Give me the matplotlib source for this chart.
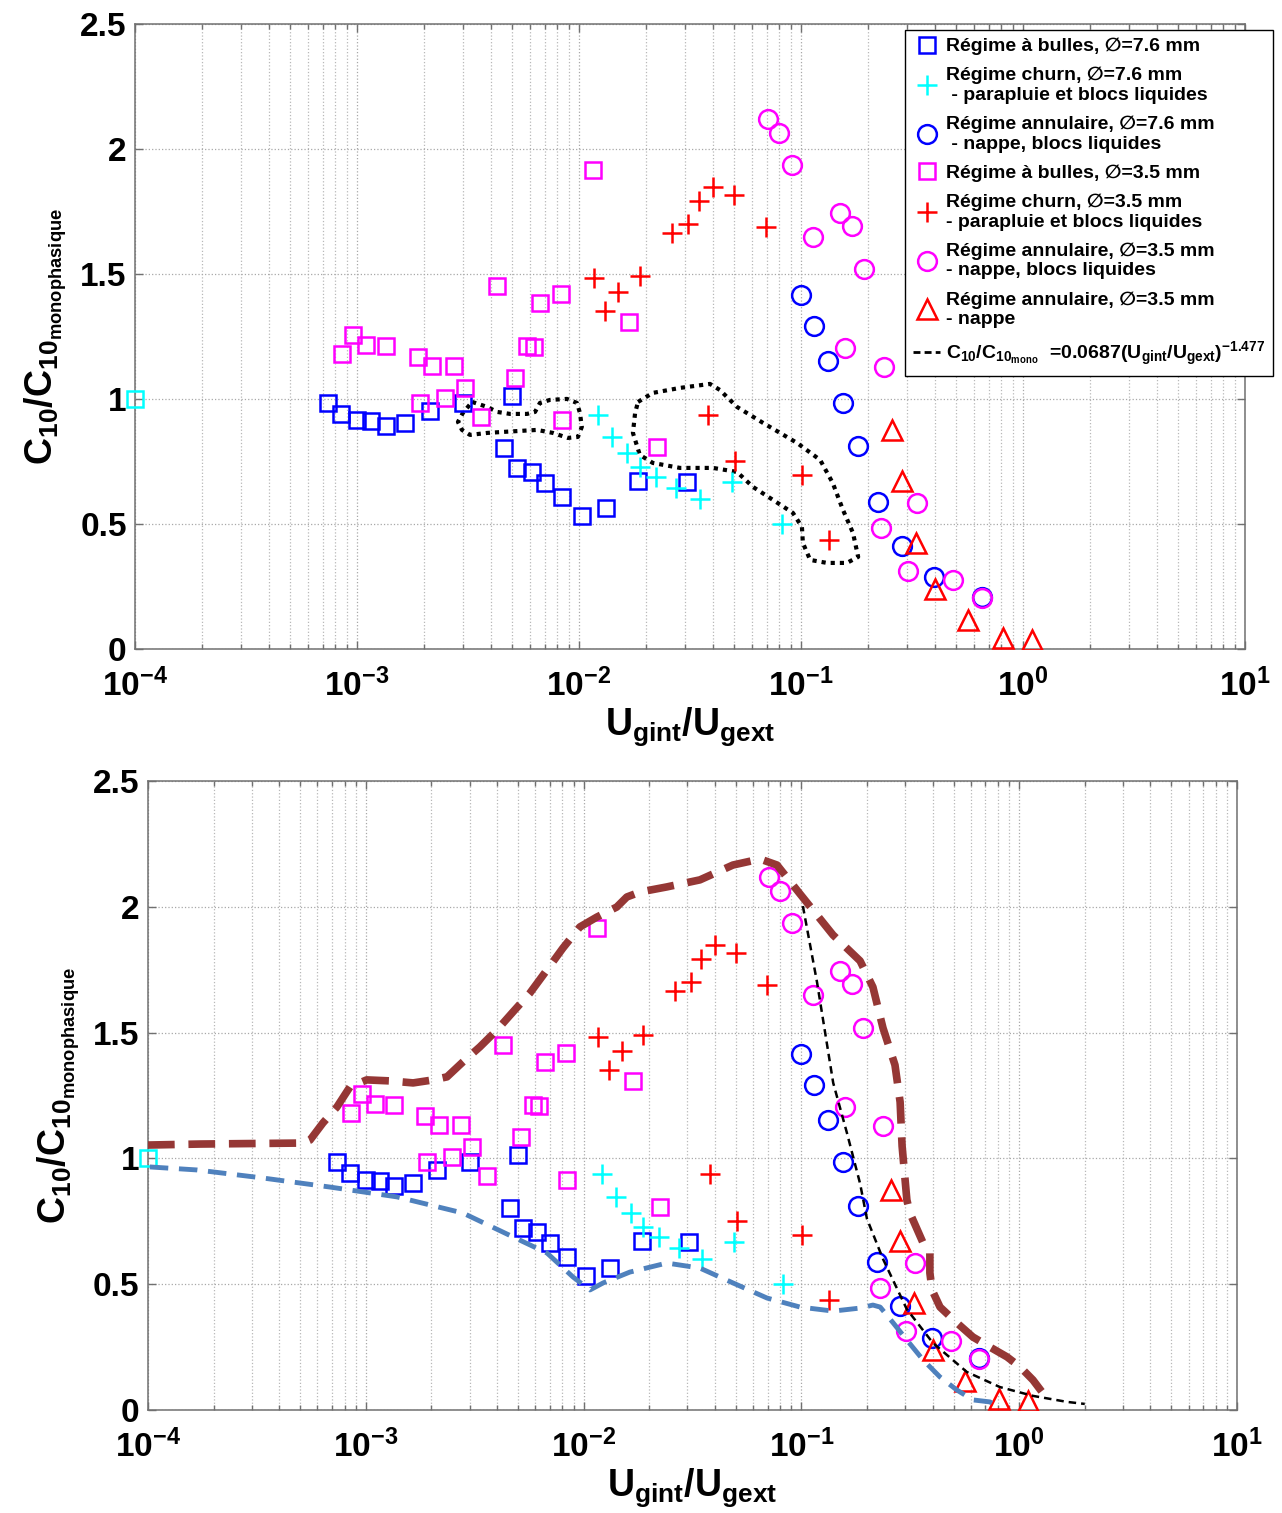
import numpy as np
import matplotlib
matplotlib.use('Agg')
import matplotlib.pyplot as plt
from matplotlib.lines import Line2D

# -------------------------- style --------------------------
plt.rcParams['font.family'] = ['Liberation Sans', 'DejaVu Sans']
plt.rcParams['font.weight'] = 'bold'
plt.rcParams['axes.labelweight'] = 'bold'
plt.rcParams['mathtext.fontset'] = 'custom'
plt.rcParams['mathtext.rm'] = 'Liberation Sans:bold'
plt.rcParams['mathtext.it'] = 'Liberation Sans:bold'
plt.rcParams['mathtext.bf'] = 'Liberation Sans:bold'
plt.rcParams['mathtext.sf'] = 'Liberation Sans:bold'

# -------------------------- data --------------------------
# single-phase reference point
ref_x = [1e-4]
ref_y = [1.0]

# bubbly regime, 7.6 mm (blue squares)
bul76_x = [7.4e-4, 8.5e-4, 1.0e-3, 1.16e-3, 1.35e-3, 1.64e-3, 2.13e-3, 3.0e-3, 5.0e-3,
           4.6e-3, 5.26e-3, 6.14e-3, 7.03e-3, 8.38e-3, 1.03e-2, 1.32e-2, 1.85e-2, 3.06e-2]
bul76_y = [0.984, 0.94, 0.916, 0.912, 0.892, 0.904, 0.952, 0.984, 1.012,
           0.804, 0.724, 0.708, 0.664, 0.608, 0.532, 0.564, 0.672, 0.668]

# churn regime, 7.6 mm (cyan plus)
churn76_x = [1.22e-2, 1.41e-2, 1.65e-2, 1.88e-2, 2.22e-2, 2.74e-2, 3.51e-2, 4.89e-2, 8.2e-2]
churn76_y = [0.936, 0.848, 0.784, 0.728, 0.688, 0.644, 0.60, 0.668, 0.50]

# annular regime, 7.6 mm (blue circles)
ann76_x = [0.100, 0.1145, 0.1324, 0.1546, 0.181, 0.222, 0.285, 0.397, 0.653]
ann76_y = [1.416, 1.292, 1.152, 0.984, 0.812, 0.588, 0.412, 0.288, 0.208]

# bubbly regime, 3.5 mm (magenta squares)
bul35_x = [8.55e-4, 9.6e-4, 1.10e-3, 1.35e-3, 1.88e-3, 2.18e-3, 2.74e-3, 3.06e-3, 1.92e-3,
           2.49e-3, 3.62e-3, 4.27e-3, 5.15e-3, 5.83e-3, 6.27e-3, 6.67e-3, 8.3e-3, 8.38e-3,
           1.156e-2, 1.68e-2, 2.24e-2]
bul35_y = [1.18, 1.256, 1.216, 1.212, 1.168, 1.132, 1.132, 1.044, 0.984,
           1.004, 0.928, 1.452, 1.084, 1.212, 1.208, 1.384, 1.42, 0.916,
           1.916, 1.308, 0.808]

# churn regime, 3.5 mm (red plus)
churn35_x = [1.17e-2, 1.50e-2, 1.31e-2, 1.88e-2, 2.62e-2, 3.10e-2, 3.47e-2, 4.02e-2, 4.99e-2,
             6.95e-2, 3.81e-2, 5.04e-2, 0.101, 0.134]
churn35_y = [1.484, 1.428, 1.352, 1.492, 1.664, 1.70, 1.792, 1.848, 1.816,
             1.688, 0.936, 0.752, 0.696, 0.436]

# annular regime, 3.5 mm - nappe, blocs liquides (magenta circles)
ann35_x = [0.0710, 0.0796, 0.0910, 0.1132, 0.150, 0.170, 0.192, 0.158, 0.2365,
           0.333, 0.229, 0.303, 0.484, 0.653]
ann35_y = [2.12, 2.064, 1.936, 1.648, 1.744, 1.692, 1.52, 1.204, 1.128,
           0.584, 0.484, 0.312, 0.276, 0.204]

# annular regime, 3.5 mm - nappe (red triangles)
nap35_x = [0.257, 0.285, 0.330, 0.402, 0.565, 0.812, 1.10]
nap35_y = [0.875, 0.672, 0.424, 0.24, 0.116, 0.044, 0.036]

# dotted hand-drawn contours (top panel)
loop1_x = [3.30e-3, 3.86e-3, 4.28e-3, 4.89e-3, 5.83e-3, 6.34e-3, 6.67e-3, 7.40e-3, 8.83e-3,
           9.79e-3, 1.01e-2, 1.03e-2, 9.89e-3, 8.91e-3, 7.63e-3, 6.47e-3, 5.42e-3, 4.55e-3,
           3.86e-3, 3.23e-3, 2.97e-3, 2.85e-3, 3.0e-3, 3.30e-3]
loop1_y = [0.988, 0.968, 0.948, 0.94, 0.94, 0.948, 0.984, 0.996, 1.0,
           0.984, 0.944, 0.888, 0.848, 0.844, 0.864, 0.876, 0.872, 0.868,
           0.864, 0.856, 0.876, 0.908, 0.944, 0.988]
loop2_x = [1.845e-2, 2.15e-2, 2.85e-2, 3.89e-2, 4.31e-2, 5.15e-2, 6.75e-2, 9.6e-2, 0.122,
           0.139, 0.1546, 0.1715, 0.181, 0.161, 0.131, 0.110, 0.102, 0.101, 0.092,
           0.0748, 0.0608, 0.0515, 0.0402, 0.0285, 0.0215, 0.0188, 0.0175, 0.0179, 1.845e-2]
loop2_y = [0.988, 1.024, 1.044, 1.06, 1.036, 0.968, 0.904, 0.824, 0.756,
           0.664, 0.556, 0.464, 0.368, 0.344, 0.344, 0.356, 0.424, 0.488, 0.544,
           0.596, 0.648, 0.708, 0.724, 0.724, 0.744, 0.776, 0.864, 0.944, 0.988]

# envelopes (bottom panel)
upper_x = [1e-4, 1.73e-4, 5.15e-4, 5.55e-4, 6.36e-4, 7.37e-4, 8.46e-4, 1.01e-3, 1.29e-3,
           1.65e-3, 2.04e-3, 2.36e-3, 2.79e-3, 3.34e-3, 4.0e-3, 4.74e-3, 5.67e-3, 6.79e-3,
           8.04e-3, 9.62e-3, 1.15e-2, 1.42e-2, 1.58e-2, 1.82e-2, 2.41e-2, 3.42e-2, 4.85e-2,
           6.46e-2, 7.73e-2, 9.86e-2, 0.1397, 0.186, 0.213, 0.237, 0.269, 0.284, 0.290,
           0.305, 0.315, 0.362, 0.389, 0.389, 0.398, 0.433, 0.518, 0.613, 0.734, 0.879,
           1.01, 1.157, 1.356]
upper_y = [1.053, 1.057, 1.061, 1.073, 1.141, 1.204, 1.284, 1.312, 1.308,
           1.30, 1.312, 1.324, 1.383, 1.443, 1.51, 1.582, 1.657, 1.749,
           1.836, 1.92, 1.959, 1.999, 2.039, 2.059, 2.079, 2.107, 2.166,
           2.19, 2.166, 2.051, 1.888, 1.785, 1.681, 1.518, 1.371, 1.224, 1.049,
           0.835, 0.783, 0.664, 0.624, 0.545, 0.477, 0.409, 0.346, 0.29, 0.25, 0.211,
           0.171, 0.119, 0.04]
lower_x = [1.02e-4, 1.68e-4, 3.37e-4, 6.85e-4, 1.39e-3, 2.79e-3, 4.74e-3, 6.79e-3, 8.93e-3,
           1.07e-2, 1.23e-2, 1.63e-2, 2.41e-2, 3.42e-2, 4.85e-2, 6.95e-2, 9.86e-2, 0.14,
           0.186, 0.213, 0.23, 0.264, 0.305, 0.362, 0.433, 0.518, 0.613, 0.734, 0.817]
lower_y = [0.966, 0.954, 0.922, 0.886, 0.847, 0.783, 0.688, 0.624, 0.529,
           0.477, 0.505, 0.548, 0.584, 0.564, 0.505, 0.445, 0.409, 0.393,
           0.405, 0.417, 0.409, 0.346, 0.278, 0.199, 0.131, 0.079, 0.04, 0.032, 0.008]

# correlation C10/C10mono = 0.0687 (Ugint/Ugext)^-1.477
corr_x = [0.1016, 0.118, 0.140, 0.162, 0.186, 0.200, 0.237, 0.305, 0.402, 0.575, 0.816,
          1.157, 1.66, 2.0]
corr_y = [2.003, 1.70, 1.30, 1.10, 0.90, 0.76, 0.60, 0.40, 0.266, 0.151, 0.091,
          0.056, 0.032, 0.024]

labels = [
    'Régime à bulles, ∅=7.6 mm',
    'Régime churn, ∅=7.6 mm\n - parapluie et blocs liquides',
    'Régime annulaire, ∅=7.6 mm\n - nappe, blocs liquides',
    'Régime à bulles, ∅=3.5 mm',
    'Régime churn, ∅=3.5 mm\n- parapluie et blocs liquides',
    'Régime annulaire, ∅=3.5 mm\n- nappe, blocs liquides',
    'Régime annulaire, ∅=3.5 mm\n- nappe',
]
corr_label = r'C$_{10}$/C$_{10_{mono}}\ \ $=0.0687(U$_{gint}$/U$_{gext}$)$^{-1.477}$'

xticks = [1e-4, 1e-3, 1e-2, 1e-1, 1e0, 1e1]
xticklabels = ['10$^{-4}$', '10$^{-3}$', '10$^{-2}$', '10$^{-1}$', '10$^{0}$', '10$^{1}$']
yticks = [0, 0.5, 1, 1.5, 2, 2.5]
yticklabels = ['0', '0.5', '1', '1.5', '2', '2.5']

series = [
    (bul76_x, bul76_y, 's', '#0000FF', 11),
    (churn76_x, churn76_y, '+', '#00FFFF', 15),
    (ann76_x, ann76_y, 'o', '#0000FF', 13.5),
    (bul35_x, bul35_y, 's', '#FF00FF', 11),
    (churn35_x, churn35_y, '+', '#FF0000', 15),
    (ann35_x, ann35_y, 'o', '#FF00FF', 13.5),
    (nap35_x, nap35_y, '^', '#FF0000', 15),
]


def draw_points(ax):
    handles = []
    for (x, y, m, c, ms), lab in zip(series, labels):
        h, = ax.plot(x, y, linestyle='none', marker=m, ms=ms, mfc='none', mec=c,
                     mew=1.8, label=lab, zorder=3)
        handles.append(h)
    ax.plot(ref_x, ref_y, linestyle='none', marker='s', ms=11, mfc='none', mec='#00FFFF',
            mew=1.8, clip_on=False, zorder=4)
    return handles


def style_axes(ax):
    ax.set_xscale('log')
    ax.set_xlim(1e-4, 1e1)
    ax.set_ylim(0, 2.5)
    ax.set_xticks(xticks)
    ax.set_xticklabels(xticklabels)
    ax.set_yticks(yticks)
    ax.set_yticklabels(yticklabels)
    ax.grid(True, which='major', axis='both', linestyle=':', color='#a8a8a8', lw=0.9)
    ax.grid(True, which='minor', axis='x', linestyle=':', color='#b8b8b8', lw=0.9)
    ax.tick_params(which='both', direction='in', top=True, right=True, color='#707070',
                   labelsize=24)
    ax.tick_params(axis='x', pad=14)
    ax.tick_params(axis='y', pad=6)
    ax.tick_params(which='major', length=6, width=1)
    ax.tick_params(which='minor', length=3.5, width=1)
    for s in ax.spines.values():
        s.set_color('#707070')
        s.set_linewidth(1.1)
    ax.set_xlabel(r'U$_{gint}$/U$_{gext}$', fontsize=27, labelpad=2)
    ax.set_ylabel(r'C$_{10}$/C$_{10_{monophasique}}$', fontsize=27, labelpad=8)


fig = plt.figure(figsize=(12.82, 15.13), dpi=100)
ax1 = fig.add_axes([0.1053, 0.5711, 0.8658, 0.4131])
ax2 = fig.add_axes([0.1154, 0.0681, 0.8495, 0.4157])

# -------------------------- top panel --------------------------
handles = draw_points(ax1)
ax1.plot(loop1_x, loop1_y, color='black', lw=3, linestyle=(0, (1, 1.2)), zorder=2)
ax1.plot(loop2_x, loop2_y, color='black', lw=3, linestyle=(0, (1, 1.2)), zorder=2)
style_axes(ax1)

corr_handle = Line2D([], [], color='black', lw=2, linestyle=(0, (2.5, 1.5)))
leg = ax1.legend(handles + [corr_handle], labels + [corr_label],
                 loc='upper right', bbox_to_anchor=(1273 / 1282, 1 - 30 / 1513),
                 bbox_transform=fig.transFigure, borderaxespad=0, fontsize=14,
                 frameon=True, fancybox=False, framealpha=1, edgecolor='black',
                 handlelength=1.4, handletextpad=0.3, labelspacing=0.6, borderpad=0.4)
leg.get_frame().set_linewidth(1.0)
leg.set_zorder(10)

# -------------------------- bottom panel --------------------------
draw_points(ax2)
ax2.plot(upper_x, upper_y, color='#953735', lw=5.5, linestyle=(0, (3.5, 1.8)), zorder=5)
ax2.plot(lower_x, lower_y, color='#4F81BD', lw=3.5, linestyle=(0, (3.8, 2.2)), zorder=5)
ax2.plot(corr_x, corr_y, color='black', lw=1.8, linestyle=(0, (3, 2)), zorder=6)
style_axes(ax2)

fig.savefig('out.png', dpi=100, facecolor='white')
